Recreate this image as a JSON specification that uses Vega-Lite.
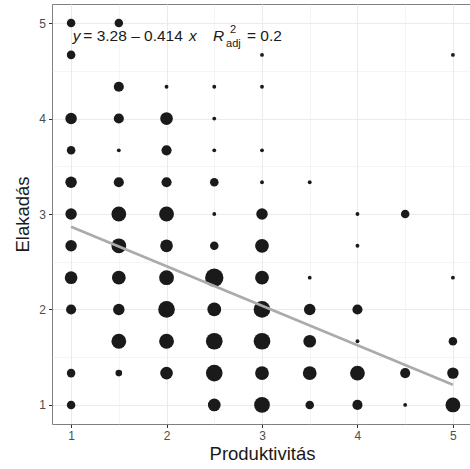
{
  "$schema": "https://vega.github.io/schema/vega-lite/v6.json",
  "width": 420,
  "height": 420,
  "autosize": {"type": "none"},
  "padding": {"left": 52, "top": 4, "right": 0, "bottom": 45},
  "background": "white",
  "config": {
    "view": {"stroke": "#7f7f7f", "strokeWidth": 1},
    "font": "Liberation Sans",
    "axis": {
      "labelFont": "Liberation Sans",
      "titleFont": "Liberation Sans",
      "labelColor": "#4D4D4D",
      "labelFontSize": 12,
      "titleFontSize": 18.5,
      "titleFontWeight": "normal",
      "titleColor": "#1a1a1a",
      "domain": false,
      "tickSize": 3.5,
      "gridColor": "#EBEBEB"
    }
  },
  "datasets": {
    "pts": [
      {"P": 1, "E": 5, "n": 3}, {"P": 1.5, "E": 5, "n": 3},
      {"P": 1, "E": 4.667, "n": 3}, {"P": 3, "E": 4.667, "n": 1}, {"P": 5, "E": 4.667, "n": 1},
      {"P": 1.5, "E": 4.333, "n": 4}, {"P": 2, "E": 4.333, "n": 1}, {"P": 2.5, "E": 4.333, "n": 1}, {"P": 3, "E": 4.333, "n": 1},
      {"P": 1, "E": 4, "n": 5}, {"P": 1.5, "E": 4, "n": 4}, {"P": 2, "E": 4, "n": 6}, {"P": 2.5, "E": 4, "n": 1},
      {"P": 1, "E": 3.667, "n": 3}, {"P": 1.5, "E": 3.667, "n": 1}, {"P": 2, "E": 3.667, "n": 4}, {"P": 2.5, "E": 3.667, "n": 1}, {"P": 3, "E": 3.667, "n": 1},
      {"P": 1, "E": 3.333, "n": 5}, {"P": 1.5, "E": 3.333, "n": 4}, {"P": 2, "E": 3.333, "n": 4}, {"P": 2.5, "E": 3.333, "n": 3}, {"P": 3, "E": 3.333, "n": 1}, {"P": 3.5, "E": 3.333, "n": 1},
      {"P": 1, "E": 3, "n": 5}, {"P": 1.5, "E": 3, "n": 8}, {"P": 2, "E": 3, "n": 8}, {"P": 2.5, "E": 3, "n": 1}, {"P": 3, "E": 3, "n": 5}, {"P": 4, "E": 3, "n": 1}, {"P": 4.5, "E": 3, "n": 3},
      {"P": 1, "E": 2.667, "n": 5}, {"P": 1.5, "E": 2.667, "n": 8}, {"P": 2, "E": 2.667, "n": 6}, {"P": 2.5, "E": 2.667, "n": 3}, {"P": 3, "E": 2.667, "n": 7}, {"P": 4, "E": 2.667, "n": 1},
      {"P": 1, "E": 2.333, "n": 6}, {"P": 1.5, "E": 2.333, "n": 7}, {"P": 2, "E": 2.333, "n": 8}, {"P": 2.5, "E": 2.333, "n": 12}, {"P": 3, "E": 2.333, "n": 7}, {"P": 3.5, "E": 2.333, "n": 1}, {"P": 5, "E": 2.333, "n": 1},
      {"P": 1, "E": 2, "n": 4}, {"P": 1.5, "E": 2, "n": 5}, {"P": 2, "E": 2, "n": 10}, {"P": 2.5, "E": 2, "n": 7}, {"P": 3, "E": 2, "n": 10}, {"P": 3.5, "E": 2, "n": 5}, {"P": 4, "E": 2, "n": 4},
      {"P": 1.5, "E": 1.667, "n": 8}, {"P": 2, "E": 1.667, "n": 8}, {"P": 2.5, "E": 1.667, "n": 10}, {"P": 3, "E": 1.667, "n": 10}, {"P": 3.5, "E": 1.667, "n": 6}, {"P": 4, "E": 1.667, "n": 1}, {"P": 5, "E": 1.667, "n": 3},
      {"P": 1, "E": 1.333, "n": 3}, {"P": 1.5, "E": 1.333, "n": 2}, {"P": 2, "E": 1.333, "n": 6}, {"P": 2.5, "E": 1.333, "n": 10}, {"P": 3, "E": 1.333, "n": 7}, {"P": 3.5, "E": 1.333, "n": 7}, {"P": 4, "E": 1.333, "n": 8}, {"P": 4.5, "E": 1.333, "n": 4}, {"P": 5, "E": 1.333, "n": 5},
      {"P": 1, "E": 1, "n": 3}, {"P": 2.5, "E": 1, "n": 6}, {"P": 3, "E": 1, "n": 9}, {"P": 3.5, "E": 1, "n": 3}, {"P": 4, "E": 1, "n": 4}, {"P": 4.5, "E": 1, "n": 1}, {"P": 5, "E": 1, "n": 8}
    ],
    "fit": [{"P": 1, "E": 2.866}, {"P": 5, "E": 1.21}],
    "lblNormal": [
      {"P": 1.128, "E": 4.809, "t": "= 3.28 – 0.414"},
      {"P": 2.843, "E": 4.809, "t": "= 0.2"}
    ],
    "lblItalic": [
      {"P": 1.017, "E": 4.809, "t": "y"},
      {"P": 2.235, "E": 4.809, "t": "x"},
      {"P": 2.487, "E": 4.809, "t": "R"}
    ],
    "lblSmall": [
      {"P": 2.665, "E": 4.9, "t": "2"},
      {"P": 2.623, "E": 4.753, "t": "adj"}
    ]
  },
  "layer": [
    {
      "data": {"name": "pts"},
      "mark": {"type": "circle", "color": "#1a1a1a", "opacity": 1},
      "encoding": {
        "x": {
          "field": "P", "type": "quantitative",
          "scale": {"domain": [0.8, 5.2], "nice": false, "zero": false},
          "axis": {
            "title": "Produktivitás",
            "values": [1, 1.5, 2, 2.5, 3, 3.5, 4, 4.5, 5],
            "labelExpr": "datum.value % 1 === 0 ? toString(datum.value) : ''",
            "tickColor": {"condition": {"test": "datum.value % 1 === 0", "value": "#333333"}, "value": "transparent"},
            "gridWidth": {"condition": {"test": "datum.value % 1 === 0", "value": 1}, "value": 0.5},
            "labelPadding": 3,
            "titlePadding": 3
          }
        },
        "y": {
          "field": "E", "type": "quantitative",
          "scale": {"domain": [0.8, 5.2], "nice": false, "zero": false},
          "axis": {
            "title": "Elakadás",
            "values": [1, 1.5, 2, 2.5, 3, 3.5, 4, 4.5, 5],
            "labelExpr": "datum.value % 1 === 0 ? toString(datum.value) : ''",
            "tickColor": {"condition": {"test": "datum.value % 1 === 0", "value": "#333333"}, "value": "transparent"},
            "gridWidth": {"condition": {"test": "datum.value % 1 === 0", "value": 1}, "value": 0.5},
            "labelPadding": 3,
            "titlePadding": 6
          }
        },
        "size": {
          "field": "n", "type": "quantitative",
          "scale": {"domain": [1, 12], "range": [14.7, 336], "zero": false},
          "legend": null
        }
      }
    },
    {
      "data": {"name": "fit"},
      "mark": {"type": "line", "color": "#ABABAB", "strokeWidth": 2.7},
      "encoding": {
        "x": {"field": "P", "type": "quantitative"},
        "y": {"field": "E", "type": "quantitative"}
      }
    },
    {
      "data": {"name": "lblNormal"},
      "mark": {"type": "text", "align": "left", "baseline": "alphabetic", "fontSize": 15.5, "color": "#1a1a1a", "font": "Liberation Sans"},
      "encoding": {
        "x": {"field": "P", "type": "quantitative"},
        "y": {"field": "E", "type": "quantitative"},
        "text": {"field": "t"}
      }
    },
    {
      "data": {"name": "lblItalic"},
      "mark": {"type": "text", "align": "left", "baseline": "alphabetic", "fontSize": 15.5, "fontStyle": "italic", "color": "#1a1a1a", "font": "Liberation Sans"},
      "encoding": {
        "x": {"field": "P", "type": "quantitative"},
        "y": {"field": "E", "type": "quantitative"},
        "text": {"field": "t"}
      }
    },
    {
      "data": {"name": "lblSmall"},
      "mark": {"type": "text", "align": "left", "baseline": "alphabetic", "fontSize": 11, "color": "#1a1a1a", "font": "Liberation Sans"},
      "encoding": {
        "x": {"field": "P", "type": "quantitative"},
        "y": {"field": "E", "type": "quantitative"},
        "text": {"field": "t"}
      }
    }
  ]
}
